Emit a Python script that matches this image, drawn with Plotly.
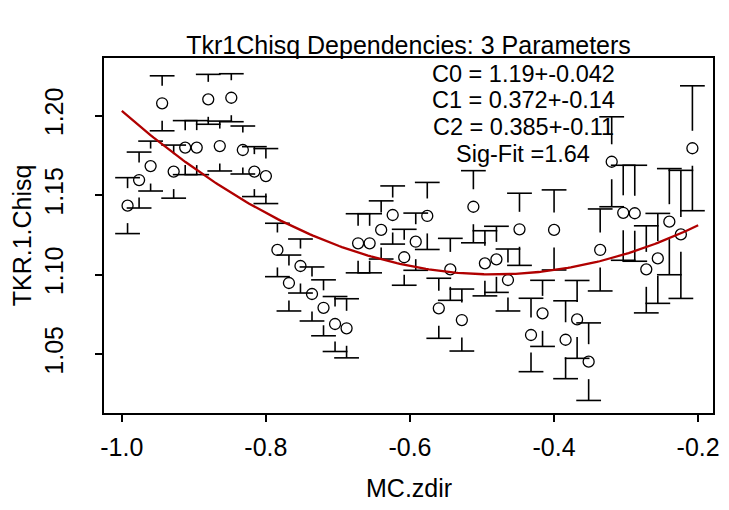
import numpy as np
import plotly.graph_objects as go

# ---- data ----
mc_zdir = [-0.992, -0.976, -0.960, -0.944, -0.928, -0.912, -0.896, -0.880, -0.864, -0.848,
           -0.832, -0.816, -0.800, -0.784, -0.768, -0.752, -0.736, -0.720, -0.704, -0.688,
           -0.672, -0.656, -0.640, -0.624, -0.608, -0.592, -0.576, -0.560, -0.544, -0.528,
           -0.512, -0.496, -0.480, -0.464, -0.448, -0.432, -0.416, -0.400, -0.384, -0.368,
           -0.352, -0.336, -0.320, -0.304, -0.288, -0.272, -0.256, -0.240, -0.224, -0.208]
tkr_chisq = [1.1434, 1.1595, 1.1683, 1.2078, 1.1648, 1.1799, 1.1799, 1.2103, 1.1809, 1.2113,
             1.1784, 1.1648, 1.1620, 1.1155, 1.0947, 1.1054, 1.0878, 1.0791, 1.0689, 1.0662,
             1.1197, 1.1197, 1.1281, 1.1375, 1.1109, 1.1207, 1.1369, 1.0788, 1.1033, 1.0714,
             1.1427, 1.1071, 1.1096, 1.0966, 1.1285, 1.0620, 1.0756, 1.1281, 1.0590, 1.0718,
             1.0452, 1.1155, 1.1710, 1.1389, 1.1386, 1.1033, 1.1102, 1.1333, 1.1253, 1.1795]
tkr_err = [0.0176, 0.0176, 0.0157, 0.0173, 0.0167, 0.0170, 0.0170, 0.0157, 0.0157, 0.0151,
           0.0151, 0.0157, 0.0173, 0.0168, 0.0176, 0.0170, 0.0170, 0.0176, 0.0173, 0.0186,
           0.0186, 0.0186, 0.0183, 0.0183, 0.0176, 0.0180, 0.0211, 0.0189, 0.0195, 0.0195,
           0.0227, 0.0205, 0.0208, 0.0195, 0.0227, 0.0231, 0.0208, 0.0252, 0.0245, 0.0245,
           0.0244, 0.0258, 0.0283, 0.0299, 0.0302, 0.0274, 0.0283, 0.0334, 0.0403, 0.0393]

# fit parameters shown on the chart
C0, C1, C2 = 1.19, 0.372, 0.385
fit_text = ["C0 = 1.19+-0.042", "C1 = 0.372+-0.14", "C2 = 0.385+-0.11", "Sig-Fit =1.64"]

x_tickvals = [-1.0, -0.8, -0.6, -0.4, -0.2]
x_ticktext = ["-1.0", "-0.8", "-0.6", "-0.4", "-0.2"]
y_tickvals = [1.05, 1.10, 1.15, 1.20]
y_ticktext = ["1.05", "1.10", "1.15", "1.20"]

title = "Tkr1Chisq Dependencies: 3 Parameters"
x_title = "MC.zdir"
y_title = "TKR.1.Chisq"

# ---- style ----
FONT = "Liberation Sans, Arial, sans-serif"
FS = 25
X_RANGE = [-1.0247, -0.1794]
Y_RANGE = [1.0129, 1.2363]
GAP = 0.011      # gap between point and error stem (data units)
CAP_HW = 0.0172  # half width of caps (data units)
TXT_X = -0.4429
TXT_Y0 = 1.2265
TXT_DY = 0.0168

# error bar segments with a gap around each point
ex, ey = [], []
for x, y, e in zip(mc_zdir, tkr_chisq, tkr_err):
    for s in (1, -1):
        ex += [x, x, None, x - CAP_HW, x + CAP_HW, None]
        ey += [y + s * GAP, y + s * e, None, y + s * e, y + s * e, None]

fit_x = np.linspace(-1.0, -0.2, 200)
fit_y = C0 + C1 * fit_x + C2 * fit_x ** 2

fig = go.Figure()
fig.add_trace(go.Scatter(x=ex, y=ey, mode="lines",
                         line=dict(color="black", width=1.6),
                         hoverinfo="skip", showlegend=False))
fig.add_trace(go.Scatter(x=mc_zdir, y=tkr_chisq, mode="markers",
                         marker=dict(symbol="circle-open", size=11,
                                     color="black", line=dict(width=1.3)),
                         showlegend=False))
fig.add_trace(go.Scatter(x=fit_x, y=fit_y, mode="lines",
                         line=dict(color="#b00000", width=2.3),
                         showlegend=False))

for i, t in enumerate(fit_text):
    fig.add_annotation(x=TXT_X, y=TXT_Y0 - i * TXT_DY, xref="x", yref="y", text=t,
                       showarrow=False, xanchor="center", yanchor="middle",
                       font=dict(family=FONT, size=23.5, color="black"))

fig.add_annotation(x=0.5, y=-0.211, xref="paper", yref="paper", text=x_title,
                   showarrow=False, xanchor="center", yanchor="middle",
                   font=dict(family=FONT, size=FS, color="black"))
fig.add_annotation(x=-0.135, y=0.5, xref="paper", yref="paper", text=y_title,
                   showarrow=False, xanchor="center", yanchor="middle", textangle=-90,
                   font=dict(family=FONT, size=FS, color="black"))

axis_common = dict(showline=True, linecolor="black", linewidth=1.5, mirror=True,
                   ticks="outside", ticklen=7, tickwidth=1.5, tickcolor="black",
                   showgrid=False, zeroline=False,
                   tickfont=dict(family=FONT, size=FS, color="black"))

fig.update_layout(
    width=729, height=510,
    margin=dict(l=104, r=9, t=58, b=97),
    paper_bgcolor="white", plot_bgcolor="white",
    title=dict(text=title, x=0.5, xref="paper", y=1 - 45 / 510, yref="container",
               xanchor="center", yanchor="middle",
               font=dict(family=FONT, size=FS, color="black")),
    xaxis=dict(range=X_RANGE, tickvals=x_tickvals, ticktext=x_ticktext,
               ticklabelstandoff=4, **axis_common),
    yaxis=dict(range=Y_RANGE, tickvals=y_tickvals, ticktext=y_ticktext, tickangle=-90,
               ticklabelstandoff=22, **axis_common),
    showlegend=False,
)

fig.write_html(
    "out.html", config={"displayModeBar": False},
    post_script=("document.body.style.margin='0';"
                 "document.body.style.overflow='hidden';"
                 "document.documentElement.style.overflow='hidden';"))
